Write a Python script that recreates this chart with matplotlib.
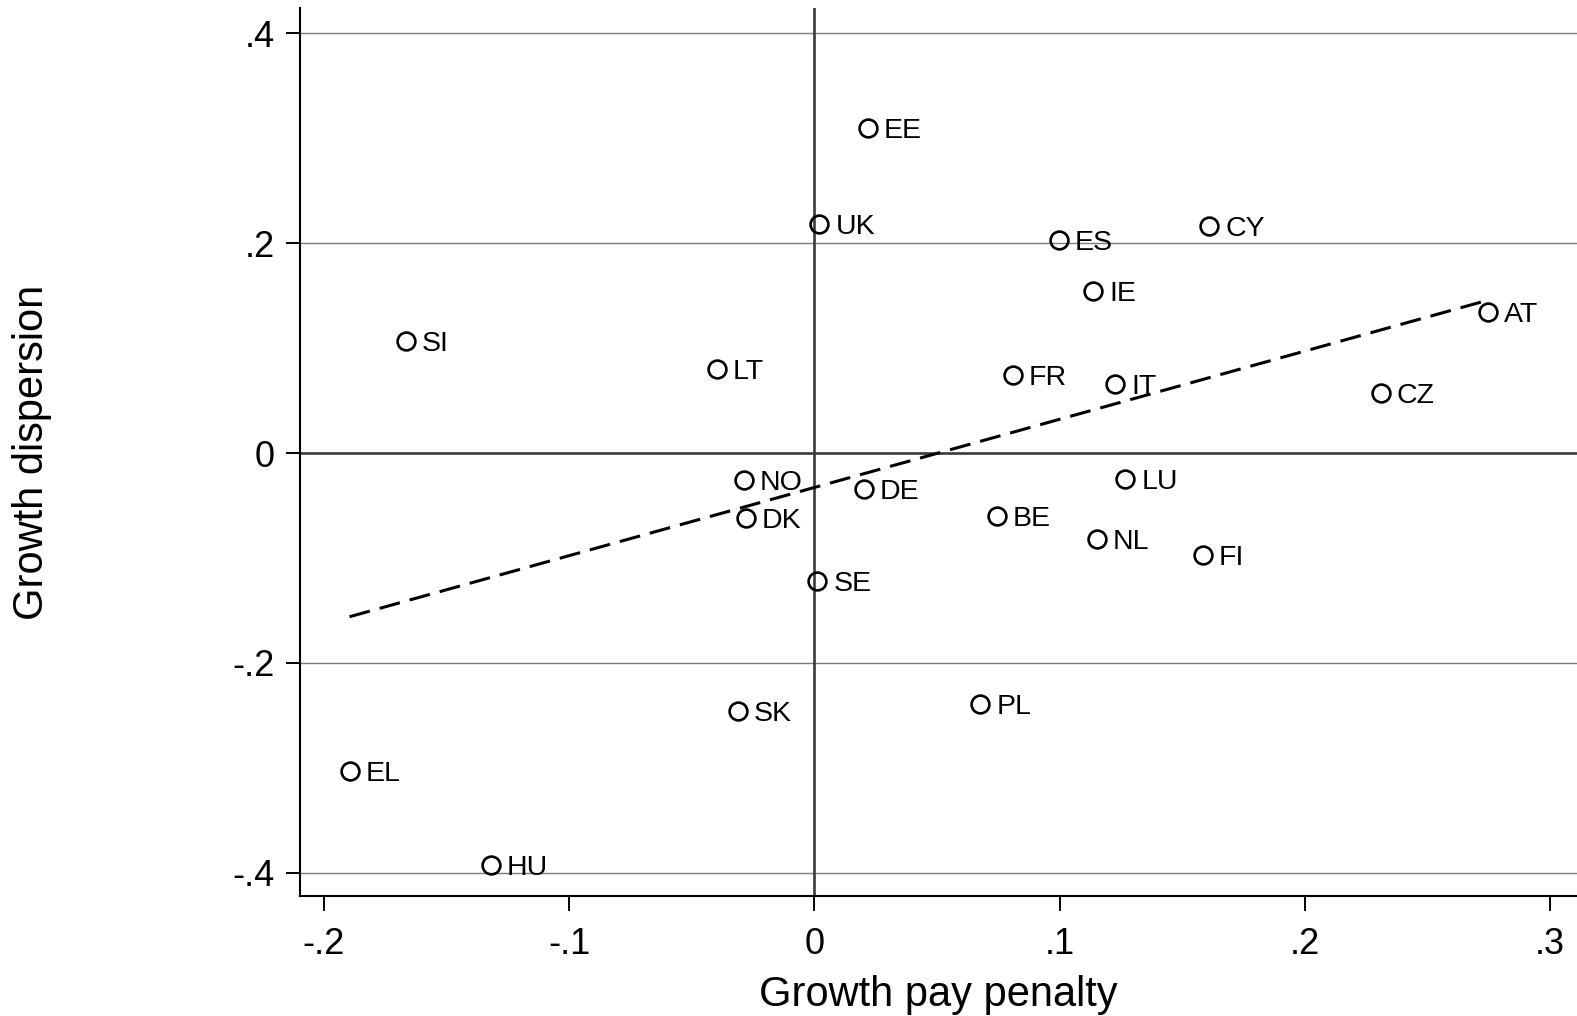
import numpy as np
import matplotlib
matplotlib.use("Agg")
import matplotlib.pyplot as plt

countries = ["EE", "UK", "ES", "CY", "IE", "SI", "AT", "LT", "FR", "IT", "CZ",
             "NO", "DE", "LU", "DK", "BE", "NL", "FI", "SE", "SK", "PL", "EL", "HU"]
pay_penalty = [0.0217, 0.0020, 0.0997, 0.1610, 0.1137, -0.1666, 0.2745, -0.0398, 0.0808, 0.1227, 0.2310,
               -0.0287, 0.0201, 0.1268, -0.0279, 0.0743, 0.1153, 0.1584, 0.0012, -0.0312, 0.0677, -0.1896, -0.1321]
dispersion = [0.310, 0.218, 0.203, 0.216, 0.154, 0.107, 0.134, 0.080, 0.074, 0.066, 0.057,
              -0.026, -0.0345, -0.025, -0.062, -0.060, -0.0815, -0.097, -0.122, -0.2456, -0.239, -0.303, -0.392]
xticks = [-0.2, -0.1, 0.0, 0.1, 0.2, 0.3]
xticklabels = ["-.2", "-.1", "0", ".1", ".2", ".3"]
yticks = [-0.4, -0.2, 0.0, 0.2, 0.4]
yticklabels = ["-.4", "-.2", "0", ".2", ".4"]

plt.rcParams['font.family'] = ['Liberation Sans', 'DejaVu Sans']

W, H = 1577, 1016
fig = plt.figure(figsize=(W / 100, H / 100), dpi=100)
ax_l, ax_b_px, ax_t_px = 300, 896, 8
ax = fig.add_axes([ax_l / W, 1 - ax_b_px / H, 1 - ax_l / W, (ax_b_px - ax_t_px) / H])

x = np.array(pay_penalty)
y = np.array(dispersion)

ax.set_xlim(-0.2098, 0.311)
ax.set_ylim(-0.422, 0.424)

for yt in yticks:
    if yt != 0:
        ax.axhline(yt, color='#7a7a7a', lw=1.0, zorder=1)
ax.axhline(0, color='#3a3a3a', lw=1.9, zorder=1)
ax.axvline(0, color='#3a3a3a', lw=1.9, zorder=1)

slope, intercept = np.polyfit(x, y, 1)
xs = np.array([x.min(), x.max()])
ax.plot(xs, intercept + slope * xs, color='black', lw=2.2, dashes=(6.9, 3.3), zorder=2)

ax.plot(x, y, 'o', ms=12.8, mfc='none', mec='black', mew=1.9, zorder=3)
for c, xi, yi in zip(countries, x, y):
    ax.annotate(c, (xi, yi), xytext=(11.5, 0), textcoords='offset points',
                va='center_baseline', ha='left', fontsize=20.5, zorder=4)

ax.set_xticks(xticks)
ax.set_xticklabels(xticklabels)
ax.set_yticks(yticks)
ax.set_yticklabels(yticklabels)
ax.tick_params(axis='x', labelsize=26, length=11, width=1.4, pad=11, direction='out')
ax.tick_params(axis='y', labelsize=26, length=10, width=1.4, pad=8, direction='out')

for s in ['top', 'right']:
    ax.spines[s].set_visible(False)
for s in ['left', 'bottom']:
    ax.spines[s].set_linewidth(1.5)

ax_center_x = (ax_l + W) / 2 / W
ax_center_y = 1 - (ax_b_px + ax_t_px) / 2 / H
fig.text(ax_center_x, 1 - 1006 / H, "Growth pay penalty", fontsize=30,
         ha='center', va='baseline')
fig.text(43 / W, ax_center_y, "Growth dispersion", fontsize=30, rotation=90,
         rotation_mode='anchor', ha='center', va='baseline')

fig.savefig("out.png", dpi=100)
